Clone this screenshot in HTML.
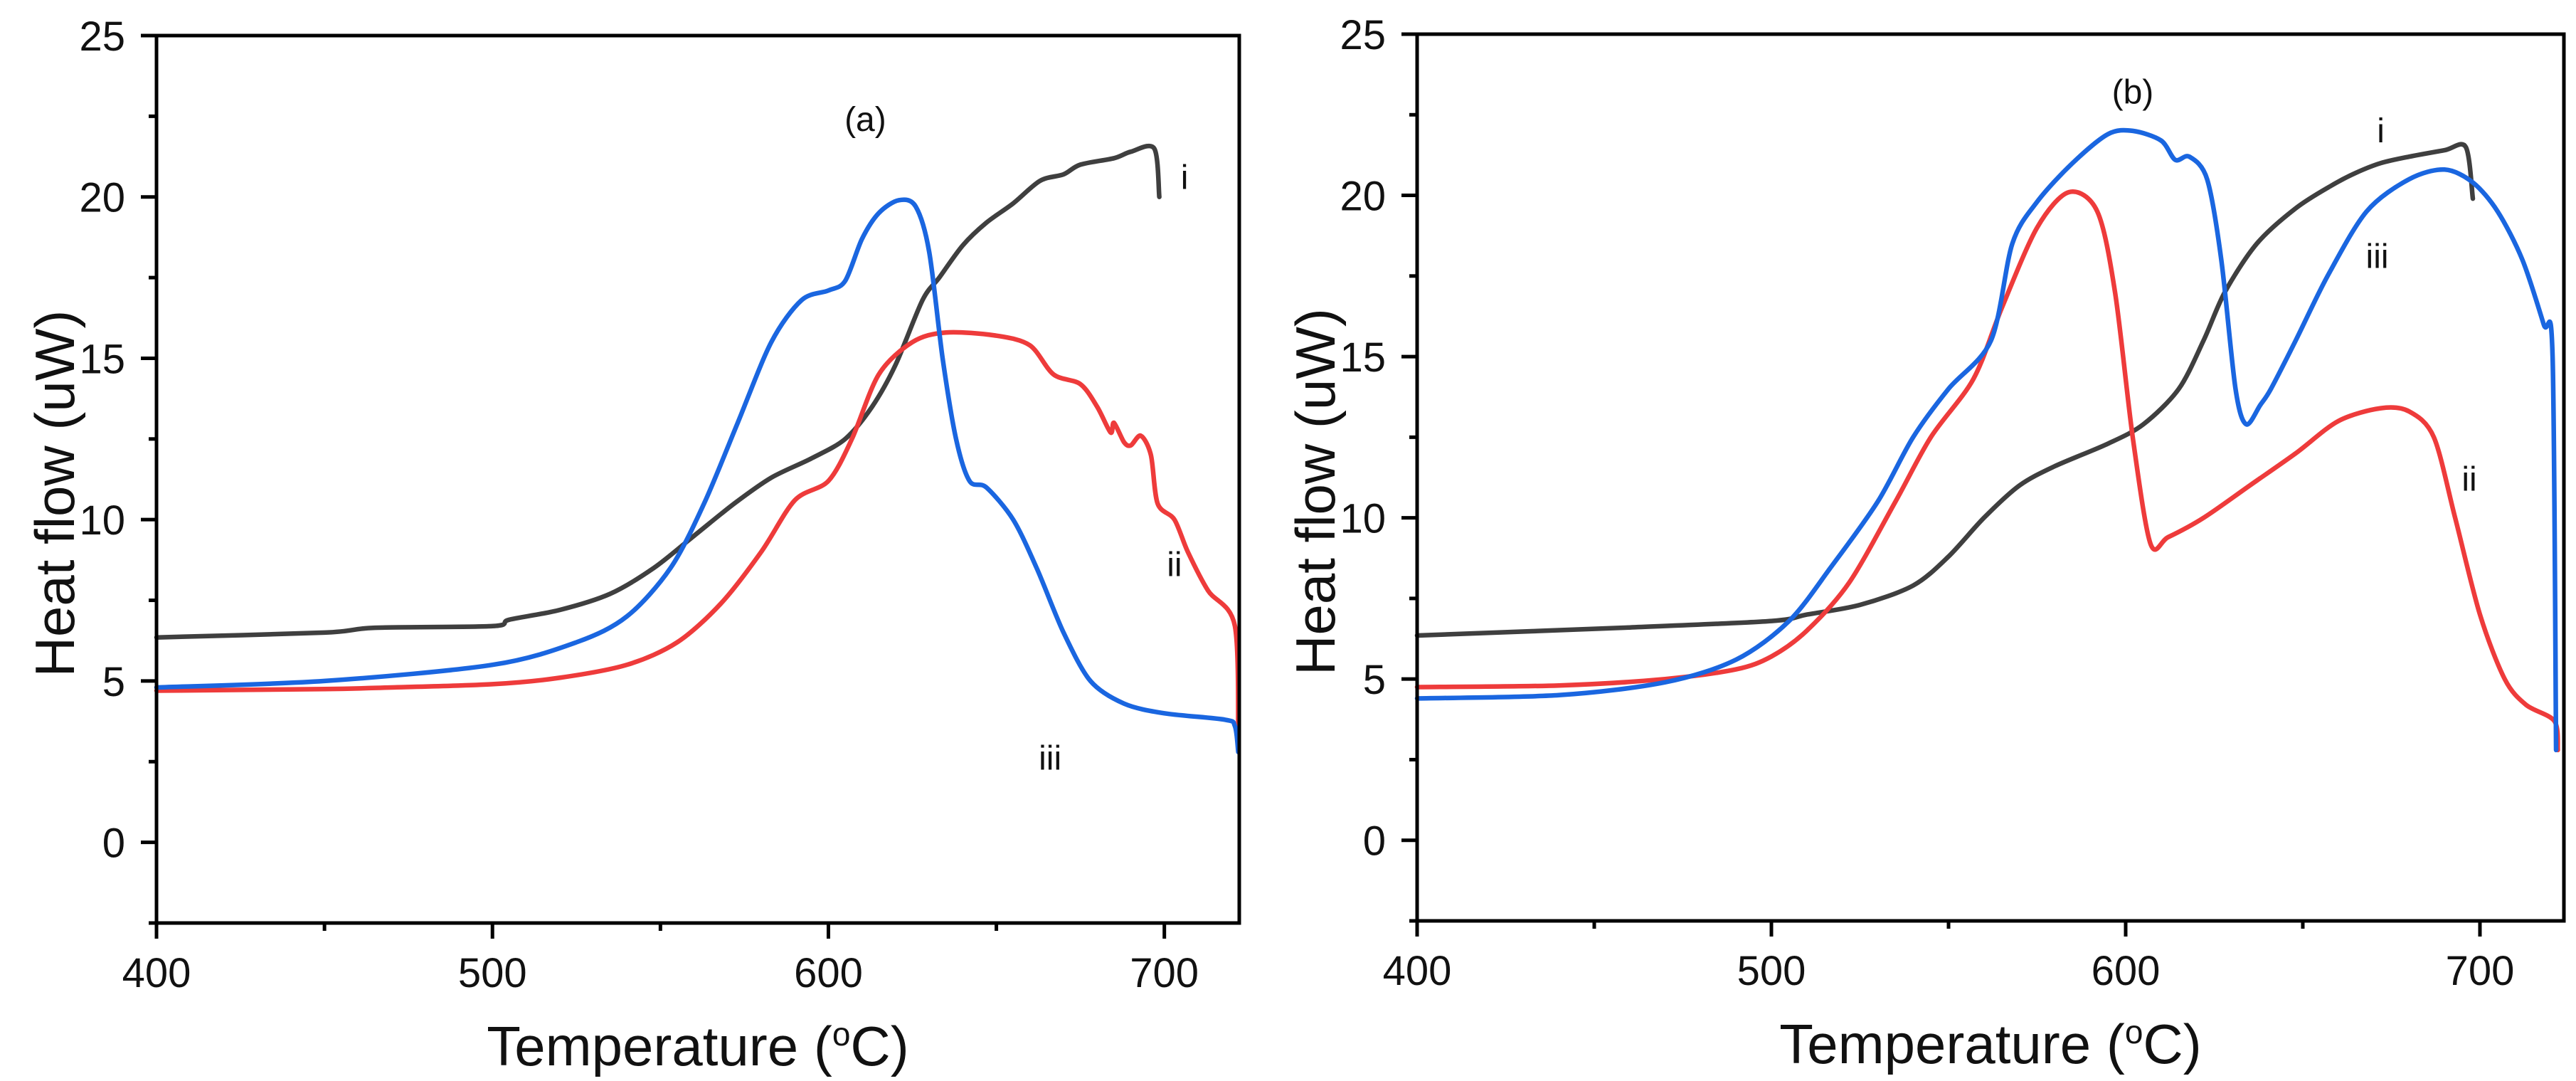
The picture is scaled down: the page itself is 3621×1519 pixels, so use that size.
<!DOCTYPE html>
<html><head><meta charset="utf-8"><style>
html,body{margin:0;padding:0;background:#fff;}
svg{display:block;font-family:"Liberation Sans",Arial,sans-serif;}
</style></head><body>
<svg id="fig" width="3621" height="1519" viewBox="0 0 3621 1519" xmlns="http://www.w3.org/2000/svg"></svg>
<script>
// Panel (a) data
const aX_i = [400,450,465,500,505,520,535,548,560,572,583,595,605,613,620,628,633,640,647,655,663,670,675,685,690,697,698.5];
const aY_i = [6.35,6.5,6.65,6.7,6.9,7.2,7.7,8.5,9.5,10.5,11.3,11.9,12.5,13.5,14.8,16.8,17.5,18.5,19.2,19.8,20.5,20.7,21.0,21.2,21.4,21.5,20.0];
const aX_ii = [400,450,470,500,520,540,555,568,580,590,600,607,615,625,635,650,660,667,675,680,684,685,688,690,693,696,698,703,707,713,721,722];
const aY_ii = [4.7,4.75,4.8,4.9,5.1,5.5,6.2,7.4,9.0,10.6,11.2,12.5,14.5,15.5,15.8,15.7,15.4,14.5,14.2,13.5,12.7,13.0,12.4,12.3,12.6,12.0,10.5,10.0,9.0,7.8,6.7,3.0];
const aX_iii = [400,450,500,525,540,553,563,573,583,592,600,605,610,615,621,626,630,634,638,642,647,655,662,670,678,688,700,718,721,722];
const aY_iii = [4.8,5.0,5.5,6.2,7.0,8.5,10.5,13.0,15.5,16.8,17.1,17.4,18.7,19.5,19.9,19.7,18.3,15.0,12.5,11.2,11.0,10.0,8.5,6.5,5.0,4.3,4.0,3.8,3.6,2.8];
// Panel (b) data
const bX_i = [400,460,500,510,525,540,550,560,570,580,595,605,615,622,628,637,648,658,665,672,680,690,696,698];
const bY_i = [6.35,6.6,6.8,7.0,7.3,7.9,8.8,10.0,11.0,11.6,12.3,12.9,14.0,15.5,17.0,18.5,19.6,20.3,20.7,21.0,21.2,21.4,21.5,19.9];
const bX_ii = [400,440,470,490,500,510,522,535,545,557,565,575,584,592,597,602,607,612,622,635,648,660,672,680,687,693,700,707,713,721,722];
const bY_ii = [4.75,4.8,5.0,5.3,5.7,6.5,8.0,10.5,12.5,14.3,16.5,19.0,20.1,19.5,17.0,12.5,9.2,9.4,10.0,11.0,12.0,13.0,13.4,13.3,12.5,10.0,7.0,5.0,4.2,3.7,2.8];
const bX_iii = [400,440,470,490,505,517,530,540,550,562,568,575,585,595,602,610,614,618,623,627,631,634,638,641,648,657,668,680,690,698,705,712,718,720.5,721.5];
const bY_iii = [4.4,4.5,4.9,5.6,6.8,8.5,10.5,12.5,14.0,15.5,18.5,19.8,21.0,21.9,22.0,21.7,21.1,21.2,20.5,18.0,14.0,12.9,13.5,14.0,15.5,17.5,19.5,20.5,20.8,20.4,19.5,18.0,16.0,15.0,2.8];
const xTicks = [400,500,600,700];
const yTicks = [0,5,10,15,20,25];

const svg = document.getElementById('fig');
const NS = 'http://www.w3.org/2000/svg';
function mk(tag, attrs, parent){ const e=document.createElementNS(NS,tag); for(const k in attrs) e.setAttribute(k,attrs[k]); (parent||svg).appendChild(e); return e; }

function smoothPath(pts){
  let d = 'M'+pts[0][0].toFixed(1)+' '+pts[0][1].toFixed(1);
  const t = 0.15;
  for(let i=0;i<pts.length-1;i++){
    const p0=pts[Math.max(0,i-1)], p1=pts[i], p2=pts[i+1], p3=pts[Math.min(pts.length-1,i+2)];
    const c1=[p1[0]+(p2[0]-p0[0])*t, p1[1]+(p2[1]-p0[1])*t];
    const c2=[p2[0]-(p3[0]-p1[0])*t, p2[1]-(p3[1]-p1[1])*t];
    d += ' C'+c1[0].toFixed(1)+' '+c1[1].toFixed(1)+' '+c2[0].toFixed(1)+' '+c2[1].toFixed(1)+' '+p2[0].toFixed(1)+' '+p2[1].toFixed(1);
  }
  return d;
}

function panel(id, L, R, T, B, xmax, series, labels){
  const g = mk('g',{});
  
  
  const xs = v => L + (v-400)/(xmax-400)*(R-L);
  const ys = v => B - (v+2.5)/27.5*(B-T);
  series.forEach(s=>{
    const pts = s.x.map((v,i)=>[xs(v), ys(s.y[i])]);
    const p = mk('path',{d:smoothPath(pts),fill:'none',stroke:s.c,'stroke-width':6.5,'stroke-linejoin':'round','stroke-linecap':'round'},g);
    
    
  });
  const f = mk('rect',{x:L,y:T,width:R-L,height:B-T,fill:'none',stroke:'#000','stroke-width':5},g);
  
  
  for(let v=-2.5; v<=25; v+=2.5){
    const major = yTicks.includes(v);
    mk('line',{x1:L-(major?22:11),x2:L,y1:ys(v),y2:ys(v),stroke:'#000','stroke-width':5},g);
  }
  yTicks.forEach(v=>{
    const t = mk('text',{x:L-44,y:ys(v)+21,'text-anchor':'end','font-size':58,fill:'#111'},g);
    t.textContent = v;
    
    
  });
  for(let v=400; v<=xmax; v+=50){
    const major = xTicks.includes(v);
    mk('line',{x1:xs(v),x2:xs(v),y1:B,y2:B+(major?22:11),stroke:'#000','stroke-width':5},g);
  }
  xTicks.forEach(v=>{
    const t = mk('text',{x:xs(v),y:B+90,'text-anchor':'middle','font-size':58,fill:'#111'},g);
    t.textContent = v;
    
    
  });
  const yt = mk('text',{x:0,y:0,'text-anchor':'middle','font-size':78,fill:'#111',transform:'translate('+(L-116)+','+((T+B)/2+20)+') rotate(-90)'},g);
  yt.textContent = 'Heat flow (uW)';
  
  
  const xt = mk('text',{x:(L+R)/2,y:B+200,'text-anchor':'middle','font-size':78,fill:'#111'},g);
  xt.innerHTML = 'Temperature (<tspan dy="-28" font-size="46">o</tspan><tspan dy="28">C)</tspan>';
  
  
  labels.forEach(l=>{
    const t = mk('text',{x:xs(l.x),y:ys(l.y)+16,'text-anchor':'middle','font-size':48,fill:'#111'},g);
    t.textContent = l.t;
    
    
  });
}

panel('a', 220, 1742, 50, 1297, 722.3, [
  {n:'i',x:aX_i,y:aY_i,c:'#3f3f3f'},
  {n:'ii',x:aX_ii,y:aY_ii,c:'#ee3b3b'},
  {n:'iii',x:aX_iii,y:aY_iii,c:'#1a66e0'}
],[{t:'(a)',x:611,y:22.4},{t:'i',x:706,y:20.6},{t:'ii',x:703,y:8.6},{t:'iii',x:666,y:2.6}]);

panel('b', 1992, 3604, 48, 1294, 723.7, [
  {n:'i',x:bX_i,y:bY_i,c:'#3f3f3f'},
  {n:'ii',x:bX_ii,y:bY_ii,c:'#ee3b3b'},
  {n:'iii',x:bX_iii,y:bY_iii,c:'#1a66e0'}
],[{t:'(b)',x:602,y:23.2},{t:'i',x:672,y:22.0},{t:'iii',x:671,y:18.1},{t:'ii',x:697,y:11.2}]);
</script>
</body></html>
